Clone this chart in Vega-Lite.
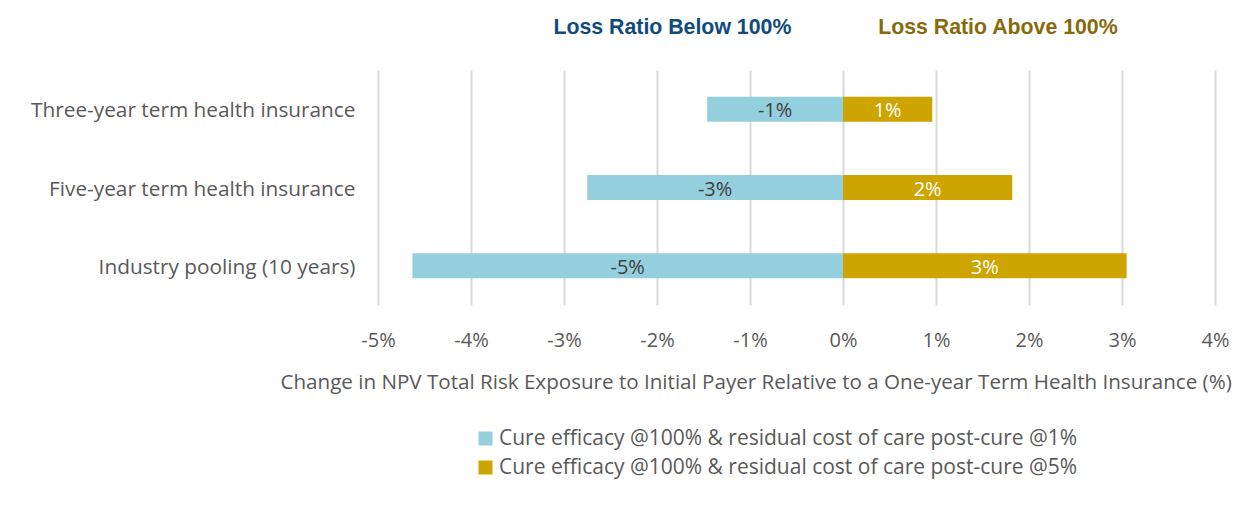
{
  "$schema": "https://vega.github.io/schema/vega-lite/v6.json",
  "width": 837,
  "height": 235,
  "autosize": "none",
  "padding": {"left": 378, "top": 70, "right": 33, "bottom": 213},
  "background": "white",
  "config": {
    "view": {"stroke": null},
    "font": "Open Sans",
    "axis": {"labelFont": "Open Sans", "titleFont": "Open Sans"},
    "legend": {"labelFont": "Open Sans"},
    "locale": {"number": {"decimal": ".", "thousands": ",", "grouping": [3], "currency": ["$", ""], "minus": "-"}}
  },
  "resolve": {"scale": {"x": "independent"}},
  "layer": [
    {
      "data": {
        "values": [
          {"plan": "Three-year term health insurance", "series": "Cure efficacy @100% & residual cost of care post-cure @1%", "v": -0.0146},
          {"plan": "Three-year term health insurance", "series": "Cure efficacy @100% & residual cost of care post-cure @5%", "v": 0.0096},
          {"plan": "Five-year term health insurance", "series": "Cure efficacy @100% & residual cost of care post-cure @1%", "v": -0.0275},
          {"plan": "Five-year term health insurance", "series": "Cure efficacy @100% & residual cost of care post-cure @5%", "v": 0.0182},
          {"plan": "Industry pooling (10 years)", "series": "Cure efficacy @100% & residual cost of care post-cure @1%", "v": -0.0463},
          {"plan": "Industry pooling (10 years)", "series": "Cure efficacy @100% & residual cost of care post-cure @5%", "v": 0.0305}
        ]
      },
      "transform": [{"calculate": "datum.v / 2", "as": "mid"}],
      "resolve": {"scale": {"x": "shared"}, "axis": {"x": "shared"}},
      "encoding": {
        "y": {
          "field": "plan",
          "type": "nominal",
          "sort": null,
          "title": null,
          "scale": {"paddingInner": 0.68, "paddingOuter": 0.34},
          "axis": {"domain": false, "ticks": false, "grid": false, "labelFontSize": 20.8, "labelColor": "#595959", "labelPadding": 23, "labelLimit": 400, "labelOffset": 2}
        }
      },
      "layer": [
        {
          "mark": {"type": "bar"},
          "encoding": {
            "x": {
              "field": "v",
              "type": "quantitative",
              "scale": {"domain": [-0.05, 0.04], "nice": false, "zero": false},
              "title": "Change in NPV Total Risk Exposure to Initial Payer Relative to a One-year Term Health Insurance (%)",
              "axis": {
                "format": ".0%",
                "values": [-0.05, -0.04, -0.03, -0.02, -0.01, 0, 0.01, 0.02, 0.03, 0.04],
                "domain": false,
                "ticks": false,
                "grid": true,
                "gridColor": "#D9D9D9",
                "gridWidth": 2,
                "labelFontSize": 20,
                "labelColor": "#595959",
                "labelPadding": 25,
                "titleFontSize": 20.6,
                "titleFontWeight": "normal",
                "titleColor": "#595959",
                "titlePadding": 22,
                "titleLimit": 2000,
                "titleAnchor": "start",
                "titleAlign": "left",
                "titleX": -98,
                "labelFlush": false
              }
            },
            "color": {
              "field": "series",
              "type": "nominal",
              "scale": {"range": ["#94CFDD", "#CDA400"]},
              "legend": {
                "title": null,
                "orient": "none",
                "legendX": 97,
                "legendY": 358,
                "direction": "vertical",
                "symbolType": "square",
                "symbolSize": 196,
                "symbolStrokeWidth": 0,
                "labelFontSize": 21,
                "labelColor": "#595959",
                "labelLimit": 800,
                "rowPadding": 7,
                "labelOffset": 3
              }
            }
          }
        },
        {
          "mark": {"type": "text", "fontSize": 20, "align": "center", "baseline": "middle", "dy": 2},
          "encoding": {
            "x": {"field": "mid", "type": "quantitative"},
            "text": {"field": "v", "type": "quantitative", "format": ".0%"},
            "color": {"condition": {"test": "datum.v < 0", "value": "#404040"}, "value": "#FFFFFF"}
          }
        }
      ]
    },
    {
      "data": {
        "values": [
          {"pos": -0.0184, "t": "Loss Ratio Below 100%"},
          {"pos": 0.0166, "t": "Loss Ratio Above 100%"}
        ]
      },
      "mark": {"type": "point", "opacity": 0},
      "encoding": {
        "x": {
          "field": "pos",
          "type": "quantitative",
          "scale": {"domain": [-0.05, 0.04], "nice": false, "zero": false},
          "title": null,
          "axis": {
            "orient": "top",
            "values": [-0.0184, 0.0166],
            "labelExpr": "datum.value < 0 ? 'Loss Ratio Below 100%' : 'Loss Ratio Above 100%'",
            "labelColor": {"expr": "datum.value < 0 ? '#0F4C7D' : '#866A0B'"},
            "labelFont": "Liberation Sans Narrow, Liberation Sans, Arial",
            "labelFontWeight": "bold",
            "labelFontSize": 21.3,
            "labelPadding": 33,
            "labelLimit": 500,
            "domain": false,
            "ticks": false,
            "grid": false,
            "labelFlush": false,
            "labelOverlap": false
          }
        }
      }
    }
  ]
}
